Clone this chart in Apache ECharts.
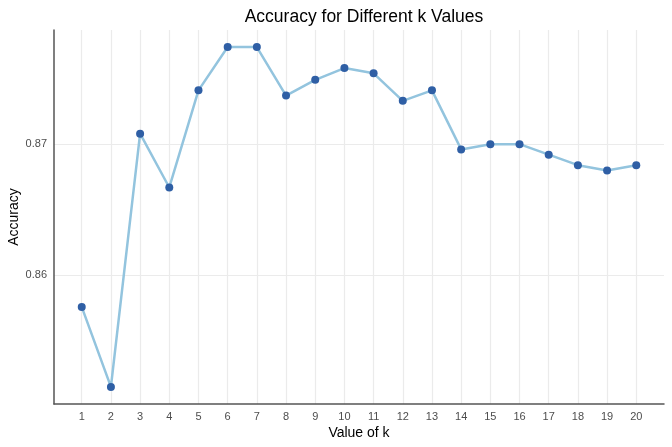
<!DOCTYPE html>
<html>
<head>
<meta charset="utf-8">
<script src="https://cdn.jsdelivr.net/npm/echarts@6/dist/echarts.min.js"></script>
<style>
  html, body { margin: 0; padding: 0; background: #fff; }
  #chart { width: 672px; height: 447px; }
</style>
</head>
<body>
<div id="chart"></div>
<script>
// k 值与对应的准确率
const kValues = [1, 2, 3, 4, 5, 6, 7, 8, 9, 10, 11, 12, 13, 14, 15, 16, 17, 18, 19, 20]
const accuracy = [0.8576, 0.8515, 0.8708, 0.8667, 0.8741, 0.8774, 0.8774, 0.8737, 0.8749, 0.8758,
  0.8754, 0.8733, 0.8741, 0.8696, 0.8700, 0.8700, 0.8692, 0.8684, 0.8680, 0.8684]
const yTicks = [0.86, 0.87]

const chart = echarts.init(document.getElementById('chart'))

const optionData = {
  backgroundColor: '#fff',
  textStyle: { fontFamily: 'Liberation Sans, Arial, sans-serif' },
  title: {
    text: 'Accuracy for Different k Values',
    left: 359,
    top: 3,
    textAlign: 'center',
    textStyle: { fontSize: 17.5, fontWeight: 'normal', color: '#000' }
  },
  grid: {
    left: 54,
    right: 8,
    top: 30,
    bottom: 43,
    containLabel: false,
    outerBoundsMode: 'none'
  },
  xAxis: {
    type: 'value',
    min: 0.05,
    max: 20.95,
    name: 'Value of k',
    nameLocation: 'middle',
    nameGap: 22,
    nameMoveOverlap: false,
    nameTextStyle: { fontSize: 14, color: '#000' },
    axisLine: { show: true, lineStyle: { color: '#555', width: 1.5 } },
    axisTick: { show: false, customValues: kValues },
    axisLabel: { customValues: kValues, fontSize: 11, color: '#4d4d4d', margin: 7 },
    splitLine: { show: true, lineStyle: { color: '#ebebeb', width: 1.2 } }
  },
  yAxis: {
    type: 'value',
    min: 0.8502,
    max: 0.8787,
    name: 'Accuracy',
    nameLocation: 'middle',
    nameGap: 33,
    nameMoveOverlap: false,
    nameTextStyle: { fontSize: 14, color: '#000' },
    axisLine: { show: true, lineStyle: { color: '#555', width: 1.5 } },
    axisTick: { show: false, customValues: yTicks },
    axisLabel: { customValues: yTicks, fontSize: 11, color: '#4d4d4d', margin: 7 },
    splitLine: { show: true, lineStyle: { color: '#ebebeb', width: 1.2 } }
  },
  series: [{
    type: 'line',
    data: kValues.map((k, i) => [k, accuracy[i]]),
    symbol: 'circle',
    symbolSize: 8,
    lineStyle: { color: '#93c4de', width: 2.5 },
    itemStyle: { color: '#2f5fa5' },
    animation: false
  }]
}
chart.setOption(optionData)
</script>
</body>
</html>
